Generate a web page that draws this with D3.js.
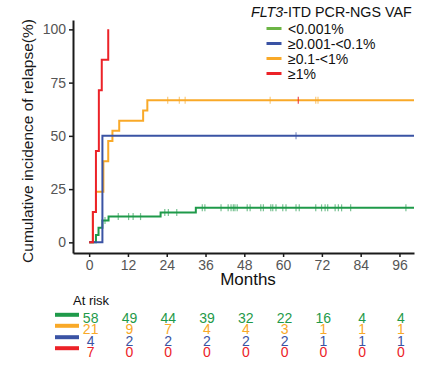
<!DOCTYPE html>
<html><head><meta charset="utf-8">
<script src="https://cdn.jsdelivr.net/npm/d3@7"></script>
<style>body{margin:0;background:#fff;} text{font-family:"Liberation Sans",Arial,sans-serif;}</style>
</head><body><svg id="c" width="440" height="368"></svg>
<script>
// ---- data ----
const seriesNames = ["<0.001%", "≥0.001-<0.1%", "≥0.1-<1%", "≥1%"];
const greenTimes = [0, 2.1, 2.9, 4.1, 6.0, 22.1, 33.0, 100.5];
const greenValues = [0, 3.4, 6.9, 10.3, 12.1, 14.0, 16.2, 16.2];
const blueTimes = [0, 4.1, 100.5];
const blueValues = [0, 50, 50];
const orangeTimes = [0, 1.15, 2.1, 4.4, 5.9, 7.2, 9.3, 16.7, 18.0, 100.5];
const orangeValues = [0, 14.3, 23.8, 38.1, 47.6, 52.4, 57.1, 61.9, 66.7, 66.7];
const redTimes = [0, 1.15, 2.1, 3.0, 3.9, 5.9];
const redValues = [0, 14.3, 42.9, 71.4, 85.7, 100];
const greenCensor = [4.9, 9.0, 12.2, 13.6, 15.9, 23.4, 24.5, 27.1, 35.0, 35.8, 40.8, 43.0, 43.9, 44.6, 45.1, 45.8, 48.9, 49.8, 53.1, 53.9, 56.2, 56.8, 57.8, 59.9, 60.9, 64.0, 65.0, 70.1, 71.9, 73.0, 73.8, 76.1, 77.1, 78.1, 80.9, 98.0];
const orangeCensor = [24.3, 27.9, 29.7, 56.0, 70.1, 70.8];
const blueCensor = [64.0];
const redCensorOnOrange = [64.7];
const xTicks = [0, 12, 24, 36, 48, 60, 72, 84, 96];
const yTicks = [0, 25, 50, 75, 100];
const riskTimes = [0, 12, 24, 36, 48, 60, 72, 84, 96];
const greenRisk = [58, 49, 44, 39, 32, 22, 16, 4, 4];
const orangeRisk = [21, 9, 7, 4, 4, 3, 1, 1, 1];
const blueRisk = [4, 2, 2, 2, 2, 2, 1, 1, 1];
const redRisk = [7, 0, 0, 0, 0, 0, 0, 0, 0];

// ---- styles ----
const C = {green: "#1f9a4a", blue: "#3a53a4", orange: "#f9a928", red: "#ec2228"};
const legendGreen = "#6cb545";

const svg = d3.select("#c");
svg.append("rect").attr("width", 440).attr("height", 368).attr("fill", "#fff");

const x = d3.scaleLinear().domain([-5, 100.5]).range([73, 414]);
const y = d3.scaleLinear().domain([-5, 104.4]).range([253, 20]);

function stepVal(times, values, t) {
  let v = values[0];
  for (let i = 0; i < times.length; i++) if (times[i] <= t) v = values[i];
  return v;
}

// axes
const yAxis = svg.append("g").attr("transform", "translate(73,0)")
  .call(d3.axisLeft(y).tickValues(yTicks).tickSize(4).tickSizeOuter(0).tickPadding(3));
const xAxis = svg.append("g").attr("transform", "translate(0,253)")
  .call(d3.axisBottom(x).tickValues(xTicks).tickSize(4).tickSizeOuter(0).tickPadding(3));
[yAxis, xAxis].forEach(g => {
  g.select(".domain").attr("stroke", "#1a1a1a").attr("stroke-width", 2);
  g.selectAll(".tick line").attr("stroke", "#1a1a1a").attr("stroke-width", 1.5);
  g.selectAll(".tick text").attr("fill", "#555").attr("font-size", 14)
    .attr("font-family", '"Liberation Sans",Arial,sans-serif');
});

// curves
const line = d3.line().x(d => x(d[0])).y(d => y(d[1])).curve(d3.curveStepAfter);
const curves = [
  [greenTimes, greenValues, C.green, greenCensor],
  [orangeTimes, orangeValues, C.orange, orangeCensor],
  [blueTimes, blueValues, C.blue, blueCensor],
  [redTimes, redValues, C.red, []]
];
curves.forEach(([ts, vs, col, cens]) => {
  svg.append("path").datum(ts.map((t, i) => [t, vs[i]]))
    .attr("d", line).attr("fill", "none").attr("stroke", col).attr("stroke-width", 2);
  svg.append("g").selectAll("line").data(cens).join("line")
    .attr("x1", d => x(d)).attr("x2", d => x(d))
    .attr("y1", d => y(stepVal(ts, vs, d)) - 3.5).attr("y2", d => y(stepVal(ts, vs, d)) + 3.5)
    .attr("stroke", col).attr("stroke-width", 1.2).attr("opacity", 0.6);
});
svg.append("g").selectAll("line").data(redCensorOnOrange).join("line")
  .attr("x1", d => x(d)).attr("x2", d => x(d))
  .attr("y1", d => y(stepVal(orangeTimes, orangeValues, d)) - 3.5)
  .attr("y2", d => y(stepVal(orangeTimes, orangeValues, d)) + 3.5)
  .attr("stroke", C.red).attr("stroke-width", 1.2).attr("opacity", 0.8);

// axis titles
svg.append("text").attr("transform", "translate(28,141) rotate(-90)")
  .attr("text-anchor", "middle").attr("dy", "0.35em").attr("font-size", 15.5).attr("fill", "#1a1a1a")
  .text("Cumulative incidence of relapse(%)");
svg.append("text").attr("x", 248).attr("y", 285).attr("text-anchor", "middle")
  .attr("font-size", 17).attr("fill", "#111").text("Months");

// legend
const title = svg.append("text").attr("x", 251).attr("y", 17).attr("font-size", 14.3).attr("fill", "#111");
title.append("tspan").attr("font-style", "italic").text("FLT3");
title.append("tspan").text("-ITD PCR-NGS VAF");
const legCols = [legendGreen, C.blue, C.orange, C.red];
seriesNames.forEach((name, i) => {
  const yy = 28.5 + i * 15;
  svg.append("line").attr("x1", 266.5).attr("x2", 281.5).attr("y1", yy).attr("y2", yy)
    .attr("stroke", legCols[i]).attr("stroke-width", 3);
  svg.append("text").attr("x", 288).attr("y", yy + 5).attr("font-size", 14).attr("fill", "#111").text(name);
});

// at risk table
svg.append("text").attr("x", 73).attr("y", 305).attr("font-size", 13).attr("fill", "#111").text("At risk");
const riskRows = [[greenRisk, C.green], [orangeRisk, C.orange], [blueRisk, C.blue], [redRisk, C.red]];
const rowY = [318.3, 329.3, 340.7, 351.7];
riskRows.forEach(([vals, col], r) => {
  svg.append("line").attr("x1", 55).attr("x2", 79).attr("y1", rowY[r] - 3.5).attr("y2", rowY[r] - 3.5)
    .attr("stroke", col).attr("stroke-width", 4);
  svg.append("g").selectAll("text").data(vals).join("text")
    .attr("x", (d, i) => x(riskTimes[i]) + 1.5).attr("y", rowY[r] + 5)
    .attr("text-anchor", "middle").attr("font-size", 14).attr("fill", col).text(d => d);
});
</script></body></html>
